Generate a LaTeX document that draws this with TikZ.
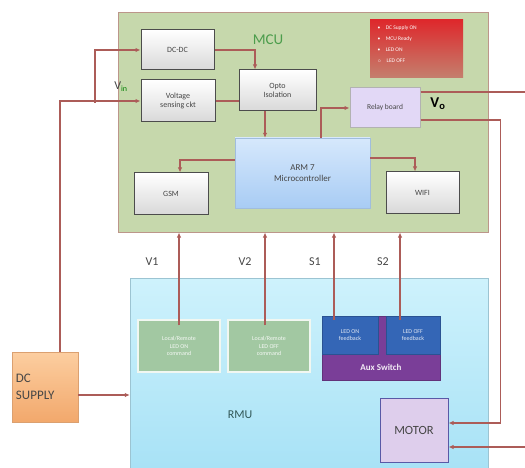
\documentclass[tikz,border=0pt]{standalone}
\usepackage{fontspec}
\setmainfont{Carlito}
\usepackage{tikz}
\usetikzlibrary{
	arrows.meta,
	positioning,
	calc
}
\definecolor{WireRed}{RGB}{172,92,88}
\definecolor{McuGreen}{RGB}{198,216,172}
\definecolor{McuEdge}{RGB}{188,150,138}
\definecolor{RmuTop}{RGB}{206,242,252}
\definecolor{RmuBot}{RGB}{168,226,246}
\definecolor{ArmTop}{RGB}{214,232,252}
\definecolor{ArmBot}{RGB}{168,204,244}
\definecolor{Lavender}{RGB}{226,216,246}
\definecolor{MotorFill}{RGB}{222,206,236}
\definecolor{OrangeTop}{RGB}{252,206,160}
\definecolor{OrangeBot}{RGB}{242,168,108}
\definecolor{CmdGreen}{RGB}{162,200,162}
\definecolor{AuxPurple}{RGB}{122,62,152}
\definecolor{FbBlue}{RGB}{52,102,182}
\definecolor{LegendRed}{RGB}{222,40,44}
\definecolor{LegendBot}{RGB}{196,128,110}
\definecolor{TextGray}{RGB}{70,70,70}

\tikzset{
	wire/.style={draw=WireRed, line width=1.3pt},
	arr/.style={wire, -{Latex[length=5pt,width=4.5pt]}},
	blk/.style={draw=gray!60!black, line width=1pt, top color=white, bottom color=gray!30,
		text=TextGray, font=\fontsize{8}{9.5}\selectfont, align=center, inner sep=1pt},
	cmd/.style={draw=white!85!CmdGreen, line width=1.2pt, fill=CmdGreen, text=white!90!CmdGreen,
		font=\fontsize{6}{7.5}\selectfont, align=center, minimum width=82pt, minimum height=52pt},
	fb/.style={draw=FbBlue!80!black, fill=FbBlue, text=white!85!FbBlue,
		font=\fontsize{6}{7.5}\selectfont, align=center, minimum height=38pt},
	sig/.style={text=TextGray, font=\fontsize{12}{13}\selectfont}
}

\begin{document}
\begin{tikzpicture}[x=1pt, y=-1pt]
	\useasboundingbox (0,0) rectangle (525,468);

	% RMU side
	\node[draw=RmuBot!70!gray, top color=RmuTop, bottom color=RmuBot, minimum width=358pt, minimum height=190pt] (rmu) at (309,373) {};
	\node[text=TextGray!70!teal, font=\fontsize{12}{13}\selectfont] (rmutxt) at (240,415) {RMU};
	\node[cmd] (ledoncmd) at (179,346) {Local/Remote\\LED ON\\command};
	\node[cmd] (ledoffcmd) at (269,346) {Local/Remote\\LED OFF\\command};
	\node[draw=AuxPurple!80!black, fill=AuxPurple, minimum width=118pt, minimum height=64pt] (aux) at (381,348) {};
	\node[fb, minimum width=56pt] (ledonfb) at (350,335) {LED ON\\feedback};
	\node[fb, minimum width=54pt] (ledofffb) at (413,335) {LED OFF\\feedback};
	\node[text=white!90!AuxPurple, font=\fontsize{9}{10}\selectfont\bfseries] (auxtxt) at (381,367) {Aux Switch};
	\node[draw=gray!70!blue, line width=1pt, fill=MotorFill, minimum width=68pt, minimum height=64pt,
		text=TextGray, font=\fontsize{12.5}{13}\selectfont] (motor) at (414,430) {MOTOR};
	\node[draw=OrangeBot!80!gray, top color=OrangeTop, bottom color=OrangeBot, minimum width=66pt, minimum height=70pt,
		text=TextGray, font=\fontsize{13}{17}\selectfont, align=left, text width=58pt] (dcsupply) at (45,387) {DC\\SUPPLY};

	% MCU side
	\node[draw=McuEdge, line width=1pt, fill=McuGreen, minimum width=370pt, minimum height=219pt] (mcu) at (303,122.5) {};
	\node[text=green!45!black!70, font=\fontsize{15}{16}\selectfont] (mcutxt) at (268,40) {MCU};
	\node[top color=LegendRed, bottom color=LegendBot, minimum width=93pt, minimum height=58pt] (legend) at (416.5,49) {};
	\node[text=white, font=\fontsize{5.5}{11}\selectfont, align=left, anchor=north west] (legendtxt) at (374,22)
		{\textbullet\quad DC Supply ON\\ \textbullet\quad MCU Ready\\ \textbullet\quad LED ON\\ $\circ$\quad LED OFF};
	\node[blk, minimum width=73pt, minimum height=40pt] (dcdc) at (177.5,50) {DC-DC};
	\node[blk, minimum width=74pt, minimum height=42pt] (vsense) at (178,101) {Voltage\\sensing ckt};
	\node[blk, minimum width=77pt, minimum height=41pt] (opto) at (277.5,90.5) {Opto\\Isolation};
	\node[draw=gray!60, line width=1pt, fill=Lavender, minimum width=70pt, minimum height=40pt,
		text=TextGray, font=\fontsize{7.5}{8}\selectfont] (relay) at (385,108) {Relay board};
	\node[draw=ArmBot!80!gray, top color=ArmTop, bottom color=ArmBot, minimum width=135pt, minimum height=70pt,
		text=TextGray, font=\fontsize{9}{11}\selectfont, align=center] (arm) at (302.5,173) {ARM 7\\Microcontroller};
	\node[blk, minimum width=74pt, minimum height=41pt] (gsm) at (171,193.5) {GSM};
	\node[blk, minimum width=73pt, minimum height=41pt] (wifi) at (422.5,192.5) {WIFI};
	\node[font=\fontsize{15}{16}\selectfont\bfseries] (vo) at (438,104) {V\textsubscript{o}};
	\node[text=TextGray, font=\fontsize{12}{13}\selectfont] (vin) at (121,87) {V\textsubscript{\color{green!50!black}in}};

	% wires
	\coordinate (split) at (95,103);
	\coordinate (relayout) at (525,92);
	\coordinate (motorin) at (525,447);
	\draw[arr] ([xshift=15]dcsupply.north) |- (vsense.west);
	\draw[arr] (split) |- (dcdc.west);
	\draw[arr] (dcdc.east) -| ([xshift=-22.5]opto.north);
	\draw[wire] (vsense.east) -- (vsense.east -| opto.west);
	\draw[arr] ([xshift=-12.5]opto.south) -- ([xshift=-12.5]opto.south |- arm.north);
	\draw[arr] ([xshift=18.5]arm.north) |- (relay.west);
	\draw[arr] ([yshift=13]arm.west) -| ([xshift=9]gsm.north);
	\draw[arr] ([yshift=15]arm.east) -| ([xshift=-7.5]wifi.north);
	\draw[wire] ([yshift=16]relay.east) -- (relayout);
	\draw[arr] ([yshift=-12]relay.east) -- ++(80,0) |- ([yshift=7]motor.east);
	\draw[arr] (motorin) -- ([yshift=-17]motor.east);
	\draw[arr] ([yshift=-8]dcsupply.east) -- ([yshift=-8]dcsupply.east -| rmu.west);
	\draw[arr] ([yshift=-6]ledoncmd.north) -- (ledoncmd.north |- mcu.south);
	\draw[arr] ([xshift=-4,yshift=-6]ledoffcmd.north) -- ([xshift=-4]ledoffcmd.north |- mcu.south);
	\draw[arr] ([xshift=-16,yshift=-4]ledonfb.north) -- ([xshift=-16]ledonfb.north |- mcu.south);
	\draw[arr] ([xshift=-13,yshift=-4]ledofffb.north) -- ([xshift=-13]ledofffb.north |- mcu.south);

	\node[sig] (v1) at (152,262) {V1};
	\node[sig] (v2) at (245,262) {V2};
	\node[sig] (s1) at (315,262) {S1};
	\node[sig] (s2) at (383,262) {S2};
\end{tikzpicture}
\end{document}
